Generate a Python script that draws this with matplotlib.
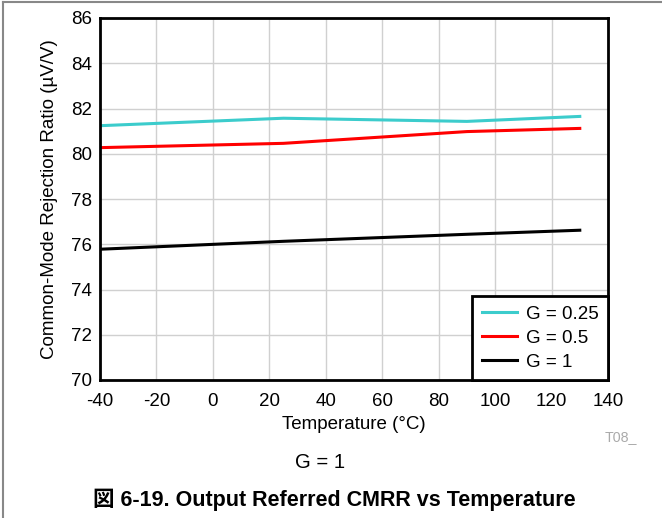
import numpy as np
import matplotlib.pyplot as plt
from matplotlib.lines import Line2D

plt.rcParams['font.family'] = ['Liberation Sans', 'Noto Sans CJK JP', 'DejaVu Sans']
plt.rcParams['axes.unicode_minus'] = False

# Datele
temp = np.array([-40, 25, 90, 130])
g025 = np.array([81.24, 81.57, 81.43, 81.65])
g05 = np.array([80.27, 80.46, 80.98, 81.12])
g1 = np.array([75.78, 76.13, 76.44, 76.62])
labels = ['G = 0.25', 'G = 0.5', 'G = 1']
colors = ['#3ccccc', '#ff0000', '#000000']

fig = plt.figure(figsize=(6.62, 5.18), dpi=100)
ax = fig.add_axes([100/662, 1 - 380/518, 508/662, 362/518])

for y, lab, col in zip([g025, g05, g1], labels, colors):
    ax.plot(temp, y, color=col, lw=2.2, label=lab)

ax.set_xlim(-40, 140)
ax.set_ylim(70, 86)
ax.set_xticks(np.arange(-40, 141, 20))
ax.set_yticks(np.arange(70, 87, 2))
ax.grid(True, color='#d0d0d0', lw=1)
ax.tick_params(length=0, labelsize=13.5)
ax.tick_params(axis='x', pad=9.5)
ax.tick_params(axis='y', pad=6)
for s in ax.spines.values():
    s.set_linewidth(2)
ax.set_xlabel('Temperature (°C)', fontsize=13.5, labelpad=4)
ax.set_ylabel('Common-Mode Rejection Ratio (µV/V)', fontsize=13.5, labelpad=9)

leg = ax.legend(loc='lower right', fontsize=13.5, frameon=True, fancybox=False,
                framealpha=1, borderaxespad=0, handlelength=1.9, labelspacing=0.36,
                borderpad=0.5, handletextpad=0.45)
leg.get_frame().set_edgecolor('black')
leg.get_frame().set_linewidth(2)

fig.text(621/662, 1 - 437/518, 'T08_', color='#aaaaaa', fontsize=10.3, ha='center', va='center')
fig.text(320/662, 1 - 463/518, 'G = 1', fontsize=14.6, ha='center', va='center')
fig.text(334/662, 1 - 500/518, '図 6-19. Output Referred CMRR vs Temperature',
         fontsize=15.5, fontweight='bold', ha='center', va='center')

# rama gri a paginii
fig.add_artist(Line2D([3/662, 3/662], [0, 1 - 2/518], transform=fig.transFigure, color='#888888', lw=1.5))
fig.add_artist(Line2D([3/662, 1], [1 - 2/518, 1 - 2/518], transform=fig.transFigure, color='#888888', lw=1.5))

fig.savefig('out.png', dpi=100)
